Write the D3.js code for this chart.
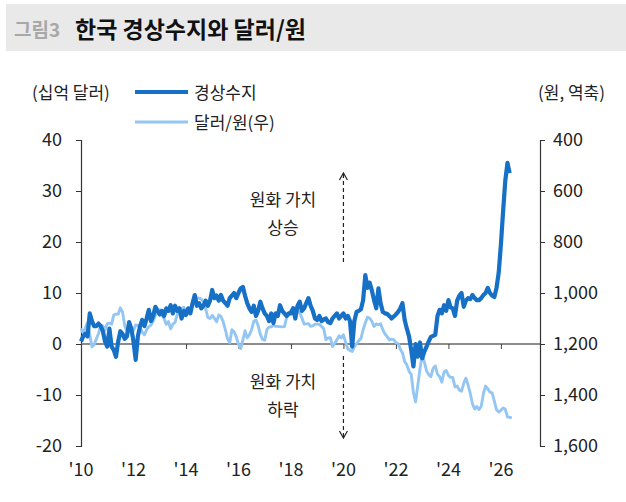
<!DOCTYPE html>
<html><head><meta charset="utf-8">
<script src="https://cdn.jsdelivr.net/npm/d3@7"></script>
<style>
body{margin:0;background:#fff}
text{font-family:"Noto Sans CJK KR","Noto Sans",sans-serif}
</style>
</head><body>
<svg id="c" width="626" height="502"></svg>
<script>
// ---- data (monthly, starting Jan 2010) ----
const startYear = 2010;
const currentAccount = [
 0.5,1.5,2.0,1.5,6.0,4.5,3.5,3.5,4.0,3.5,
 2.5,0.5,-0.5,3.0,-0.5,-1.2,-2.5,0.5,2.5,2.0,
 1.0,1.5,4.3,3.0,0.5,-3.1,1.5,3.5,4.7,3.5,
 5.0,6.7,4.5,5.5,7.3,6.5,5.8,6.5,5.5,7.0,
 6.5,7.6,6.0,7.5,6.5,7.0,5.0,6.5,5.7,7.0,
 6.0,8.0,9.6,7.5,8.0,7.0,7.5,8.5,7.5,8.5,
 10.6,9.0,9.5,8.5,9.6,8.5,8.0,7.5,9.0,9.5,
 10.0,9.0,10.0,10.9,11.2,9.5,8.0,7.0,6.3,7.5,
 5.5,6.5,8.3,7.0,6.0,5.5,4.5,6.0,4.1,6.0,
 5.5,7.6,6.5,6.0,5.5,6.0,6.0,7.0,5.0,7.5,
 8.3,6.5,7.0,8.0,9.0,7.5,6.5,5.0,4.7,5.5,
 4.5,4.8,5.0,4.3,4.1,5.0,5.5,6.0,5.0,5.5,
 6.0,5.0,5.5,4.5,-0.5,4.5,6.3,6.5,6.8,8.6,
 13.5,11.0,12.0,10.5,8.6,7.0,10.9,8.0,6.3,6.0,
 5.9,5.5,5.0,5.4,5.8,6.3,7.0,8.0,4.7,3.0,
 1.5,-1.2,-4.4,0.0,-2.5,0.3,-2.8,-1.5,-0.5,0.5,
 1.4,1.6,1.8,5.5,6.7,6.0,7.6,6.5,8.6,7.2,
 7.0,5.5,8.5,9.5,10.0,7.3,8.5,9.0,8.8,9.6,
 9.0,8.6,8.6,9.0,9.6,10.0,11.0,10.0,9.5,9.2,
 11.0,14.0,19.5,26.0,32.0,35.5,33.5
];
const usdKrw = [
 1139,1157,1137,1116,1164,1211,1203,1180,1160,1126,1130,1146,
 1120,1118,1122,1086,1083,1083,1058,1075,1129,1149,1134,1152,
 1147,1125,1127,1134,1154,1164,1144,1132,1126,1111,1088,1075,
 1065,1086,1101,1123,1112,1141,1122,1115,1085,1067,1062,1056,
 1069,1071,1071,1044,1025,1019,1020,1024,1034,1061,1096,1100,
 1088,1099,1113,1086,1092,1112,1144,1180,1195,1144,1152,1172,
 1201,1218,1185,1148,1176,1164,1144,1111,1106,1128,1162,1182,
 1185,1144,1133,1133,1126,1131,1131,1132,1133,1132,1098,1085,
 1067,1079,1072,1068,1078,1097,1122,1121,1120,1131,1129,1122,
 1122,1123,1131,1140,1183,1176,1175,1210,1197,1184,1168,1176,
 1164,1194,1220,1225,1229,1210,1199,1187,1179,1144,1117,1095,
 1099,1111,1131,1121,1124,1121,1144,1161,1171,1184,1181,1183,
 1195,1199,1220,1235,1269,1282,1307,1319,1391,1427,1363,1297,
 1243,1270,1306,1320,1328,1296,1286,1318,1328,1350,1310,1304,
 1323,1331,1331,1368,1365,1381,1385,1354,1334,1361,1394,1435,
 1455,1445,1457,1444,1395,1365,1375,1389,1392,1424,1458,1467,
 1460,1451,1455,1486,1488,1490
];
const yearTicks = [2010,2012,2014,2016,2018,2020,2022,2024,2026];
const yearLabels = ["'10","'12","'14","'16","'18","'20","'22","'24","'26"];
const leftTicks = [40,30,20,10,0,-10,-20];
const rightTicks = [400,600,800,1000,1200,1400,1600];
const seriesNames = ["경상수지","달러/원(우)"];

// ---- drawing ----
const svg = d3.select("#c");
const darkC = "#1570c6", lightC = "#93c6f2";
const FONT = '"Noto Sans CJK KR","Noto Sans",sans-serif';

// title band
svg.append("rect").attr("x",6).attr("y",4).attr("width",620).attr("height",47).attr("fill","#e9e9e9");
svg.append("text").attr("x",14).attr("y",37).attr("font-size",19).attr("font-weight","bold").attr("fill","#a8a8a8").text("그림3");
svg.append("text").attr("x",75).attr("y",38).attr("font-size",23).attr("font-weight","bold").attr("fill","#111").text("한국 경상수지와 달러/원");

const x = d3.scaleLinear().domain([2010, 2027.49]).range([81, 540]);
const yL = d3.scaleLinear().domain([-20, 40]).range([446, 140]);
const yR = d3.scaleLinear().domain([1600, 400]).range([446, 140]);
const t = i => startYear + i/12;

// axes
const axL = svg.append("g").attr("transform","translate(81,0)")
  .call(d3.axisLeft(yL).tickValues(leftTicks).tickSize(5).tickPadding(14).tickFormat(d=>String(d)));
const axR = svg.append("g").attr("transform","translate(540,0)")
  .call(d3.axisRight(yR).tickValues(rightTicks).tickSize(5).tickPadding(8).tickFormat(d3.format(",")));
[axL,axR].forEach(a=>{
  a.select(".domain").attr("stroke","#333").attr("stroke-width",1.2);
  a.selectAll(".tick line").attr("stroke","#333");
  a.selectAll("text").attr("font-size",18).attr("fill","#222").attr("font-family",FONT);
});
// zero line with year ticks
const axX = svg.append("g").attr("transform",`translate(0,${yL(0)})`)
  .call(d3.axisBottom(x).tickValues(yearTicks).tickSize(5).tickFormat(""));
axX.select(".domain").attr("d",`M${x.range()[0]},0H${x.range()[1]}`).attr("stroke","#666").attr("stroke-width",1.5);
axX.selectAll(".tick line").attr("stroke","#444");
// year labels at bottom
svg.append("g").selectAll("text").data(yearTicks).join("text")
  .attr("x",d=>x(d)).attr("y",476).attr("text-anchor","middle")
  .attr("font-size",18).attr("fill","#222").text((d,i)=>yearLabels[i]);

// lines
const lineR = d3.line().x((d,i)=>x(t(i))).y(d=>yR(d));
const lineL = d3.line().x((d,i)=>x(t(i))).y(d=>yL(d));
svg.append("path").datum(usdKrw).attr("d",lineR).attr("fill","none")
  .attr("stroke",lightC).attr("stroke-width",2.9).attr("stroke-linejoin","round");
svg.append("path").datum(currentAccount).attr("d",lineL).attr("fill","none")
  .attr("stroke",darkC).attr("stroke-width",4.2).attr("stroke-linejoin","round");

// unit labels and legend
svg.append("text").attr("x",32).attr("y",99).attr("font-size",17).attr("fill","#222").text("(십억 달러)");
svg.append("text").attr("x",605).attr("y",99).attr("text-anchor","end").attr("font-size",17).attr("fill","#222").text("(원, 역축)");
svg.append("line").attr("x1",135).attr("x2",188).attr("y1",92).attr("y2",92).attr("stroke",darkC).attr("stroke-width",4);
svg.append("line").attr("x1",135).attr("x2",188).attr("y1",122).attr("y2",122).attr("stroke",lightC).attr("stroke-width",3);
svg.append("text").attr("x",194).attr("y",99).attr("font-size",17).attr("fill","#222").text(seriesNames[0]);
svg.append("text").attr("x",194).attr("y",129).attr("font-size",17).attr("fill","#222").text(seriesNames[1]);

// annotations
const ax = x(2020);
function note(lines, yy){
  lines.forEach((s,i)=>svg.append("text").attr("x",283).attr("y",yy+i*28).attr("text-anchor","middle")
    .attr("font-size",17).attr("fill","#222").text(s));
}
note(["원화 가치","상승"], 206);
note(["원화 가치","하락"], 388);
svg.append("line").attr("x1",ax).attr("x2",ax).attr("y1",262).attr("y2",174).attr("stroke","#222").attr("stroke-width",1.2).attr("stroke-dasharray","4,3");
svg.append("path").attr("d",`M${ax-4},${180}L${ax},${173}L${ax+4},${180}`).attr("fill","none").attr("stroke","#222").attr("stroke-width",1.2);
svg.append("line").attr("x1",ax).attr("x2",ax).attr("y1",356).attr("y2",438).attr("stroke","#222").attr("stroke-width",1.2).attr("stroke-dasharray","4,3");
svg.append("path").attr("d",`M${ax-4},${431}L${ax},${438}L${ax+4},${431}`).attr("fill","none").attr("stroke","#222").attr("stroke-width",1.2);
</script>
</body></html>
